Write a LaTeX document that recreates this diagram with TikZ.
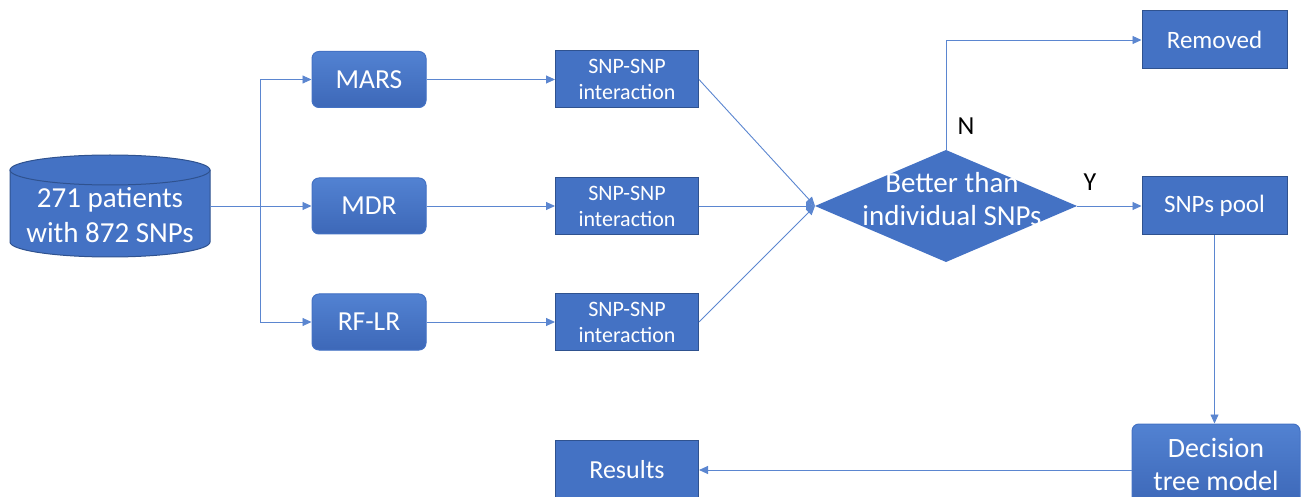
\documentclass[tikz,border=0pt]{standalone}
\usepackage{fontspec}
\setmainfont{Carlito}
\usetikzlibrary{arrows.meta,calc}
\definecolor{obox}{HTML}{4472C4}
\definecolor{obtop}{HTML}{5282D2}
\definecolor{obbot}{HTML}{3D68B8}
\definecolor{oedge}{HTML}{2F528F}
\definecolor{oline}{HTML}{5B86D0}
\tikzset{
  sq/.style={draw=oedge, line width=1pt, fill=obox, text=white, align=center, inner sep=0pt},
  rbox/.style={sq, rounded corners=7pt, top color=obtop, bottom color=obbot, draw=obox, minimum width=114pt, minimum height=56pt, font=\fontsize{27.5}{34}\selectfont},
  ibox/.style={sq, minimum width=143pt, minimum height=57pt, font=\fontsize{22}{26}\selectfont},
  obox2/.style={sq, minimum width=145pt, minimum height=58pt, font=\fontsize{25}{30}\selectfont},
  conn/.style={draw=oline, line width=0.9pt},
  arr/.style={conn, -{Triangle[length=9pt,width=8pt]}},
  lab/.style={font=\fontsize{26}{30}\selectfont, text=black},
}
\begin{document}
\begin{tikzpicture}[x=1pt,y=-1pt]
\useasboundingbox (0,0) rectangle (1302,497);
% cylinder
\fill[obox] (10,170) -- (10,242) arc[start angle=180,end angle=0,x radius=100,y radius=15] -- (210,170) -- cycle;
\draw[oedge,line width=1pt] (10,170) -- (10,242) arc[start angle=180,end angle=0,x radius=100,y radius=15] -- (210,170);
\draw[oedge,line width=1pt,fill=obox] (110,170) ellipse[x radius=100,y radius=15];
\node[align=center,text=white,font=\fontsize{29}{35}\selectfont] (db) at (110,215) {271 patients\\with 872 SNPs};
\coordinate (dbE) at (210,206);
\coordinate (hub) at (260,206);

\node[rbox] (mars) at (369,79.5) {MARS};
\node[rbox] (mdr) at (369,206) {MDR};
\node[rbox] (rflr) at (369,322) {RF-LR};

\node[ibox] (i1) at (627,79.5) {SNP-SNP\\interaction};
\node[ibox] (i2) at (627,206) {SNP-SNP\\interaction};
\node[ibox] (i3) at (627,322) {SNP-SNP\\interaction};

% diamond
\coordinate (dL) at (815,206);
\coordinate (dR) at (1077,206);
\coordinate (dT) at (946,150);
\coordinate (dB) at (946,262);
\fill[obox] (dL) -- (dT) -- (dR) -- (dB) -- cycle;
\node[align=center,text=white,font=\fontsize{29}{33}\selectfont] (dec) at (952,199) {Better than\\individual SNPs};

\node[obox2] (rem) at (1214.5,40) {Removed};
\node[obox2] (pool) at (1214.5,206) {SNPs pool};
\node[rbox, minimum width=168pt, minimum height=80pt, font=\fontsize{28}{33}\selectfont] (tree) at (1216,464) {Decision\\tree model};
\node[obox2, minimum width=143pt, minimum height=60pt, font=\fontsize{26}{30}\selectfont] (res) at (627,470) {Results};

\node[lab] (nl) at (966,126) {N};
\node[lab] (yl) at (1090,182) {Y};

% connectors
\draw[conn] (dbE) -- (hub);
\draw[conn] (hub|-mars.west) -- (hub|-rflr.west);
\draw[arr] (hub|-mars.west) -- (mars.west);
\draw[arr] (hub) -- (mdr.west);
\draw[arr] (hub|-rflr.west) -- (rflr.west);
\draw[arr] (mars.east) -- (i1.west);
\draw[arr] (mdr.east) -- (i2.west);
\draw[arr] (rflr.east) -- (i3.west);
\draw[arr] (i1.east) -- (dL);
\draw[arr] (i2.east) -- (dL);
\draw[arr] (i3.east) -- (dL);
\draw[arr] (dT) |- (rem.west);
\draw[arr] (dR) -- (pool.west);
\draw[arr] (pool.south) -- (pool.south|-tree.north);
\draw[arr] (tree.west|-res.east) -- (res.east);
\end{tikzpicture}
\end{document}
